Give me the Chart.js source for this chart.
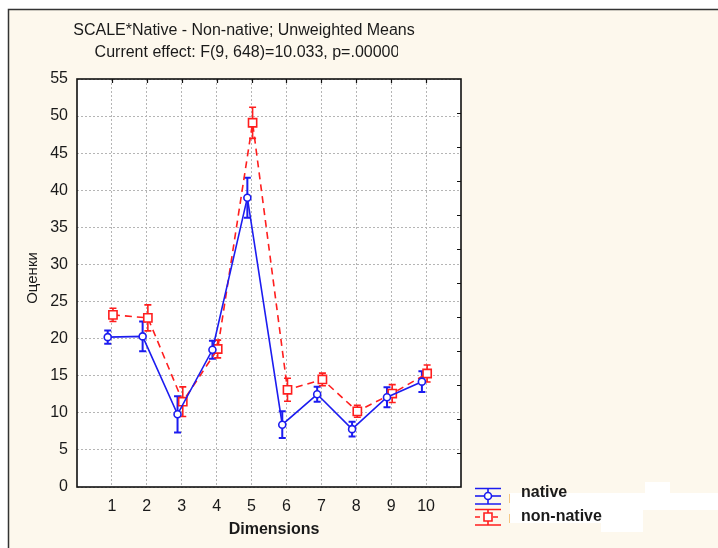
<!DOCTYPE html>
<html><head><meta charset="utf-8">
<script src="https://cdn.jsdelivr.net/npm/chart.js@4.4.1/dist/chart.umd.min.js"></script>
<style>html,body{margin:0;padding:0;background:#fff}#wrap{width:718px;height:548px}</style>
</head><body><div id="wrap"><canvas id="c" width="718" height="548"></canvas></div>
<script>
const categories = [1, 2, 3, 4, 5, 6, 7, 8, 9, 10];
const nativeMeans = [20.2, 20.3, 9.8, 18.5, 39.0, 8.4, 12.5, 7.8, 12.1, 14.2];
const nativeErr = [0.9, 2.0, 2.45, 1.2, 2.7, 1.8, 1.0, 1.0, 1.35, 1.4];
const nonNativeMeans = [23.2, 22.8, 11.5, 18.6, 49.1, 13.1, 14.5, 10.2, 12.6, 15.3];
const nonNativeErr = [0.9, 1.75, 2.0, 1.2, 2.1, 1.55, 0.85, 0.8, 1.2, 1.15];
const yTicks = [0, 5, 10, 15, 20, 25, 30, 35, 40, 45, 50, 55];
const seriesLabels = ['native', 'non-native'];
const titleLines = ['SCALE*Native - Non-native; Unweighted Means', 'Current effect: F(9, 648)=10.033, p=.00000'];
const xTitle = 'Dimensions';
const yTitle = 'Оценки';

const BLUE = 'rgb(28,28,240)';
const RED = 'rgb(255,30,30)';
const CREAM = '#fdf8ed';
const FONT = '"Liberation Sans", Arial, sans-serif';
const SHIFT = [-0.12, 0.03];

function pts(means, shift) { return categories.map((c, i) => ({ x: c + shift, y: means[i] })); }

const errorBars = {
  id: 'errorBars',
  beforeDatasetsDraw(chart) {
    const ctx = chart.ctx, xs = chart.scales.x, ys = chart.scales.y;
    chart.data.datasets.forEach((ds) => {
      ctx.save();
      ctx.strokeStyle = ds.borderColor;
      ctx.lineWidth = ds.errWidth;
      ctx.setLineDash([]);
      ds.data.forEach((p, i) => {
        const e = ds.errors[i];
        const x = xs.getPixelForValue(p.x);
        const y1 = ys.getPixelForValue(p.y + e), y2 = ys.getPixelForValue(p.y - e);
        ctx.beginPath();
        ctx.moveTo(x, y1); ctx.lineTo(x, y2);
        ctx.moveTo(x - 3.5, y1); ctx.lineTo(x + 3.5, y1);
        ctx.moveTo(x - 3.5, y2); ctx.lineTo(x + 3.5, y2);
        ctx.stroke();
      });
      ctx.restore();
    });
  }
};

const decor = {
  id: 'decor',
  beforeDraw(chart) {
    const ctx = chart.ctx, a = chart.chartArea;
    ctx.save();
    ctx.fillStyle = '#fff';
    ctx.fillRect(0, 0, chart.width, chart.height);
    ctx.fillStyle = CREAM;
    ctx.fillRect(8, 9, chart.width - 8, chart.height - 9);
    ctx.strokeStyle = '#333';
    ctx.lineWidth = 1.5;
    ctx.beginPath();
    ctx.moveTo(8.5, chart.height); ctx.lineTo(8.5, 9.5); ctx.lineTo(chart.width, 9.5);
    ctx.stroke();
    ctx.fillStyle = '#fff';
    ctx.fillRect(a.left, a.top, a.right - a.left, a.bottom - a.top);
    ctx.restore();
  },
  afterDraw(chart) {
    const ctx = chart.ctx, a = chart.chartArea, xs = chart.scales.x;
    ctx.save();
    ctx.strokeStyle = '#111';
    ctx.lineWidth = 1.6;
    ctx.strokeRect(a.left, a.top, a.right - a.left, a.bottom - a.top);
    ctx.lineWidth = 1.2;
    ctx.beginPath();
    categories.forEach(c => {
      const x = Math.round(xs.getPixelForValue(c)) + 0.5;
      ctx.moveTo(x, a.top); ctx.lineTo(x, a.top + 4);
    });
    for (let k = 1; k < 12; k++) {
      const y = Math.round(a.top + (a.bottom - a.top) * k / 12) + 0.5;
      ctx.moveTo(a.right, y); ctx.lineTo(a.right - 4, y);
    }
    ctx.stroke();
    ctx.fillStyle = '#1a1a1a';
    ctx.font = '16px ' + FONT;
    ctx.textAlign = 'center';
    ctx.textBaseline = 'middle';
    ctx.fillText(titleLines[0], 244, 31);
    ctx.save();
    ctx.beginPath();
    ctx.rect(0, 40, 398, 30);
    ctx.clip();
    ctx.fillText(titleLines[1], 247, 53);
    ctx.restore();
    ctx.font = 'bold 16px ' + FONT;
    ctx.fillText(xTitle, 274, 530);
    ctx.save();
    ctx.translate(33, 278);
    ctx.rotate(-Math.PI / 2);
    ctx.font = '15px ' + FONT;
    ctx.fillText(yTitle, 0, 0);
    ctx.restore();
    ctx.fillStyle = '#fff';
    ctx.fillRect(645, 482, 25, 11);
    ctx.fillRect(510, 493, 208, 17);
    ctx.fillRect(510, 510, 133, 13);
    ctx.fillRect(601, 523, 42, 9);
    ctx.strokeStyle = 'rgba(240,180,90,0.7)';
    ctx.lineWidth = 1;
    ctx.beginPath();
    ctx.moveTo(509.5, 494); ctx.lineTo(509.5, 503);
    ctx.moveTo(509.5, 514); ctx.lineTo(509.5, 523);
    ctx.stroke();
    const leg = [{ y: 496, c: BLUE, dash: [], style: 'circle' }, { y: 517, c: RED, dash: [5, 4], style: 'rect' }];
    leg.forEach((l, i) => {
      ctx.strokeStyle = l.c;
      ctx.lineWidth = 1.6;
      ctx.setLineDash([]);
      ctx.beginPath();
      ctx.moveTo(475, l.y - 7.5); ctx.lineTo(501, l.y - 7.5);
      ctx.moveTo(475, l.y + 8); ctx.lineTo(501, l.y + 8);
      ctx.moveTo(488, l.y - 7.5); ctx.lineTo(488, l.y + 8);
      ctx.stroke();
      ctx.setLineDash(l.dash);
      ctx.beginPath();
      ctx.moveTo(475, l.y); ctx.lineTo(501, l.y);
      ctx.stroke();
      ctx.setLineDash([]);
      ctx.fillStyle = '#fff';
      ctx.beginPath();
      if (l.style === 'circle') ctx.arc(488, l.y, 3.5, 0, Math.PI * 2);
      else ctx.rect(484, l.y - 4, 8, 8);
      ctx.fill(); ctx.stroke();
      ctx.fillStyle = '#1a1a1a';
      ctx.font = 'bold 16px ' + FONT;
      ctx.textAlign = 'left';
      ctx.fillText(seriesLabels[i], 521, i === 0 ? 493 : 517);
    });
    ctx.restore();
  }
};

new Chart(document.getElementById('c'), {
  type: 'line',
  data: {
    datasets: [
      {
        label: seriesLabels[0], data: pts(nativeMeans, SHIFT[0]), errors: nativeErr, errWidth: 2,
        borderColor: BLUE, borderWidth: 1.6, pointStyle: 'circle', pointRadius: 3.5,
        pointBackgroundColor: '#fff', pointBorderColor: BLUE, pointBorderWidth: 1.6, tension: 0, fill: false
      },
      {
        label: seriesLabels[1], data: pts(nonNativeMeans, SHIFT[1]), errors: nonNativeErr, errWidth: 1.6,
        borderColor: RED, borderWidth: 1.6, borderDash: [7, 5], pointStyle: 'rect', pointRadius: 5.8,
        pointBackgroundColor: '#fff', pointBorderColor: RED, pointBorderWidth: 1.6, tension: 0, fill: false
      }
    ]
  },
  options: {
    responsive: false, animation: false, devicePixelRatio: 1,
    layout: { padding: { left: 0, top: 79, right: 257, bottom: 21 } },
    plugins: { legend: { display: false }, tooltip: { enabled: false } },
    scales: {
      x: {
        type: 'linear', min: 0, max: 11,
        afterBuildTicks: s => { s.ticks = categories.map(v => ({ value: v })); },
        afterFit: s => { s.height = 40; },
        ticks: { font: { family: FONT, size: 16 }, color: '#1a1a1a', padding: 10, maxRotation: 0, autoSkip: false },
        grid: { color: '#b5b5b5', lineWidth: 1, drawTicks: false },
        border: { display: false, dash: [2, 2] }
      },
      y: {
        type: 'linear', min: 0, max: 55,
        afterBuildTicks: s => { s.ticks = yTicks.map(v => ({ value: v })); },
        afterFit: s => { s.width = 77; },
        ticks: { font: { family: FONT, size: 16 }, color: '#1a1a1a', padding: 9 },
        grid: { color: '#b5b5b5', lineWidth: 1, drawTicks: false },
        border: { display: false, dash: [2, 2] }
      }
    }
  },
  plugins: [errorBars, decor]
});
</script>
</body></html>
